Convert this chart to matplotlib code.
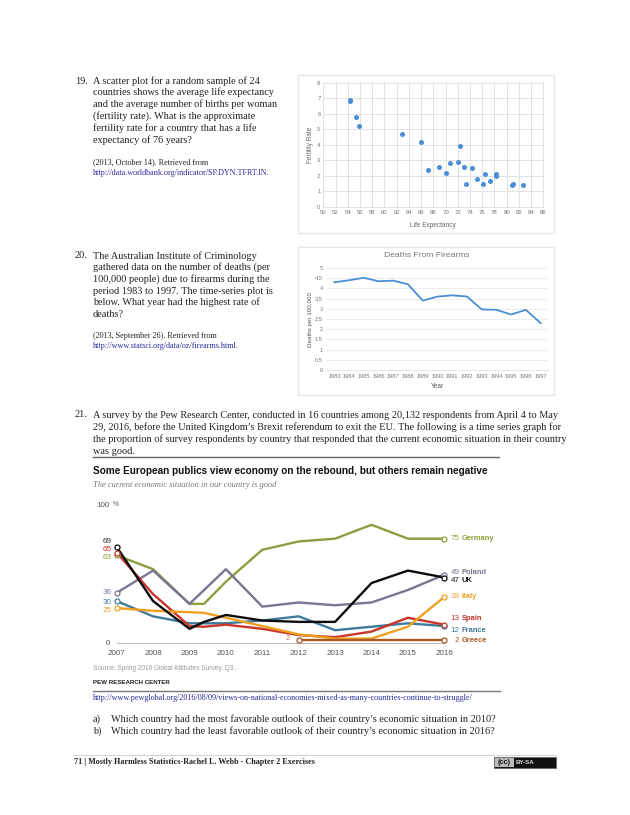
import matplotlib
matplotlib.use("Agg")
import matplotlib.pyplot as plt
from matplotlib.patches import Rectangle

W, H = 630, 815
SERIF = "Liberation Serif"
SANS = "Liberation Sans"
LINK = "#2a2a9c"
INK = "#222222"
BODY = 7.35
NOTE = 5.9

# ---- scatter data
life_expectancy = [54.3, 54.4, 55.4, 55.9, 62.9, 66.0, 67.1, 68.9, 70.0, 70.8, 72.1, 72.3,
                   73.0, 73.3, 74.3, 75.1, 76.1, 76.5, 77.3, 78.3, 78.3, 80.8, 81.0, 82.7]
fertility_rate = [6.9, 6.8, 5.8, 5.2, 4.7, 4.2, 2.4, 2.6, 2.2, 2.8, 2.9, 3.9,
                  2.6, 1.5, 2.5, 1.8, 1.5, 2.1, 1.7, 2.0, 2.1, 1.4, 1.5, 1.4]

# ---- firearms data
firearm_years = [1983, 1984, 1985, 1986, 1987, 1988, 1989, 1990, 1991, 1992, 1993, 1994, 1995, 1996, 1997]
firearm_deaths = [4.3, 4.4, 4.52, 4.35, 4.38, 4.2, 3.4, 3.6, 3.66, 3.6, 2.97, 2.95, 2.72, 2.95, 2.3]

# ---- Pew data
pew_years = [2007, 2008, 2009, 2010, 2011, 2012, 2013, 2014, 2015, 2016]
years_kink = [2007, 2008, 2009, 2009.4, 2010, 2011, 2012, 2013, 2014, 2015, 2016]
germany = [63, 53, 28, 28, 44, 67, 73, 75, 85, 75, 75]
poland = [36, 52, 28, 38, 53, 26, 29, 27, 29, 38, 49]
uk = [69, 30, 10, 15, 20, 16, 15, 15, 43, 52, 47]
spain = [65, 35, 12, 11.5, 13, 10, 5.5, 4, 8, 18, 13]
france = [30, 19, 14, 14, 14, 16, 19, 9, 11.5, 14, 12]
italy = [25, 23, 22, 21.5, 18, 12, 6, 3, 3, 11.5, 33]
greece_years = [2012, 2013, 2014, 2015, 2016]
greece = [2, 2, 2, 2, 2]

fig = plt.figure(figsize=(W / 100, H / 100), dpi=100, facecolor="white")


def box(x0, y0, x1, y1, **kw):
    return fig.add_axes([x0 / W, 1 - y1 / H, (x1 - x0) / W, (y1 - y0) / H], **kw)


def txt(x, y, s, size=BODY, color=INK, family=SERIF, **kw):
    kw.setdefault("va", "center")
    fig.text(x / W, 1 - y / H, s, fontsize=size, color=color, family=family, **kw)


def rule(x0, x1, y, color, lw):
    fig.add_artist(plt.Line2D([x0 / W, x1 / W], [1 - y / H, 1 - y / H], color=color, lw=lw))


def frame(x0, y0, x1, y1):
    fig.add_artist(Rectangle((x0 / W, 1 - y1 / H), (x1 - x0) / W, (y1 - y0) / H,
                             transform=fig.transFigure, fc="white", ec="#e6e6e6", lw=1.0,
                             zorder=-1))


# ---- page text
txt(75, 81, "19.")
for y, s in zip([81, 92.5, 104.5, 116, 128, 140],
                ["A scatter plot for a random sample of 24",
                 "countries shows the average life expectancy",
                 "and the average number of births per woman",
                 "(fertility rate). What is the approximate",
                 "fertility rate for a country that has a life",
                 "expectancy of 76 years?"]):
    txt(93, y, s)
txt(93, 162, "(2013, October 14). Retrieved from", size=NOTE)
txt(93, 173, "http://data.worldbank.org/indicator/SP.DYN.TFRT.IN.", size=NOTE, color=LINK)

txt(75, 255.7, "20.")
for y, s in zip([255.7, 267.5, 279.5, 291, 302.5, 314.5],
                ["The Australian Institute of Criminology",
                 "gathered data on the number of deaths (per",
                 "100,000 people) due to firearms during the",
                 "period 1983 to 1997. The time-series plot is",
                 "below. What year had the highest rate of",
                 "deaths?"]):
    txt(93, y, s)
txt(93, 335.5, "(2013, September 26). Retrieved from", size=NOTE)
txt(93, 345.7, "http://www.statsci.org/data/oz/firearms.html.", size=NOTE, color=LINK)

txt(75, 415, "21.")
for y, s in zip([415, 427, 438.7, 451],
                ["A survey by the Pew Research Center, conducted in 16 countries among 20,132 respondents from April 4 to May",
                 "29, 2016, before the United Kingdom\u2019s Brexit referendum to exit the EU. The following is a time series graph for",
                 "the proportion of survey respondents by country that responded that the current economic situation in their country",
                 "was good."]):
    txt(93, y, s)

# ---- scatter chart
frame(298, 75, 554, 233)
ax1 = box(323.3, 82.7, 543.3, 207)
ax1.scatter(life_expectancy, fertility_rate, s=13, color="#4a8fd6", zorder=3, linewidths=0)
ax1.set_xlim(50, 86)
ax1.set_ylim(0, 8)
ax1.set_xticks(range(50, 88, 2))
ax1.set_yticks(range(0, 9))
ax1.grid(color="#e2e2e2", lw=0.7)
ax1.set_axisbelow(True)
ax1.tick_params(length=0, labelsize=4.3, labelcolor="#777777", pad=2)
for s in ax1.spines.values():
    s.set_color("#e2e2e2")
    s.set_linewidth(0.7)
ax1.set_xlabel("Life Expectancy", fontsize=4.7, color="#666666", family=SANS, labelpad=5)
ax1.set_ylabel("Fertility Rate", fontsize=4.7, color="#666666", family=SANS, labelpad=2)
for t in ax1.get_xticklabels() + ax1.get_yticklabels():
    t.set_family(SANS)

# ---- firearms chart
frame(298, 246.7, 554, 395)
ax2 = box(327, 268, 548, 370)
ax2.plot(firearm_years, firearm_deaths, color="#4a8fd6", lw=1.3, solid_joinstyle="round")
ax2.set_xlim(1982.5, 1997.5)
ax2.set_ylim(0, 5)
ax2.set_xticks(firearm_years)
ax2.set_yticks([i * 0.5 for i in range(11)])
ax2.set_yticklabels(["0", "0.5", "1", "1.5", "2", "2.5", "3", "3.5", "4", "4.5", "5"])
ax2.grid(axis="y", color="#ececec", lw=0.7)
ax2.set_axisbelow(True)
ax2.tick_params(length=0, labelsize=4.1, labelcolor="#777777", pad=3)
for n, s in ax2.spines.items():
    s.set_visible(n == "bottom")
    s.set_color("#e8e8e8")
ax2.set_xlabel("Year", fontsize=4.7, color="#555555", family=SANS, labelpad=3)
ax2.set_ylabel("Deaths per 100,000", fontsize=4.5, color="#555555", family=SANS, labelpad=1)
for t in ax2.get_xticklabels() + ax2.get_yticklabels():
    t.set_family(SANS)
txt(426.5, 255.7, "Deaths From Firearms", size=6.1, color="#777777", family=SANS, ha="center")

# ---- Pew chart
rule(93, 499, 456.8, "#666666", 1.0)
txt(93, 470.7, "Some European publics view economy on the rebound, but others remain negative",
    size=7.2, color="#111111", family=SANS, weight="bold")
txt(93, 485.3, "The current economic situation in our country is good", size=6.1, color="#777777",
    style="italic")
ax3 = box(116.7, 504, 444.3, 642.7)
ax3.set_xlim(2007, 2016)
ax3.set_ylim(0, 100)
ax3.patch.set_visible(False)
series = [
    (years_kink, germany, "#8c9e3e"),
    (years_kink, poland, "#7c7490"),
    (years_kink, france, "#3f7a9c"),
    (years_kink, spain, "#c8352b"),
    (years_kink, italy, "#f0a020"),
    (greece_years, greece, "#a85a20"),
    (years_kink, uk, "#0c0c0c"),
]
for xs, ys, c in series:
    ax3.plot(xs, ys, color=c, lw=1.7, clip_on=False, solid_joinstyle="round", zorder=3)
    for i in (0, -1):
        ax3.plot(xs[i], ys[i], "o", ms=3.6, mfc="white", mec=c, mew=0.9, clip_on=False, zorder=4)
for n, s in ax3.spines.items():
    s.set_visible(n == "bottom")
    s.set_color("#bbbbbb")
ax3.set_xticks(pew_years)
ax3.set_xticklabels([str(y) for y in pew_years], family=SANS)
ax3.tick_params(axis="x", length=0, labelsize=5.8, labelcolor="#555555", pad=5)
ax3.set_yticks([0, 100])
ax3.set_yticklabels(["0", "100"], family=SANS)
ax3.tick_params(axis="y", length=0, labelsize=5.8, labelcolor="#555555", pad=5)
txt(118.5, 504.5, "%", size=4.8, color="#555555", family=SANS, ha="right")

start_labels = [("69", "#333333", 541.7), ("65", "#c8352b", 549.3), ("63", "#8c9e3e", 557.3),
                ("36", "#7c7490", 593), ("30", "#3f7a9c", 602.7), ("25", "#f0a020", 610.7)]
for s, c, y in start_labels:
    txt(111.7, y, s, size=5.8, color=c, family=SANS, ha="right")
txt(288, 639, "2", size=5.8, color="#c87a50", family=SANS, ha="center")
end_labels = [("75", "Germany", "#8c9e3e", 539), ("49", "Poland", "#7c7490", 572.7),
              ("47", "UK", "#1a1a1a", 580), ("33", "Italy", "#f0a020", 597),
              ("13", "Spain", "#c8352b", 618.7), ("12", "France", "#3f7a9c", 630),
              ("2", "Greece", "#a85a20", 640)]
for num, name, c, y in end_labels:
    txt(459.5, y, num, size=5.8, color=c, family=SANS, ha="right")
    txt(461.7, y, name, size=5.4, color=c, family=SANS, weight="bold")
txt(93, 668.7, "Source: Spring 2016 Global Attitudes Survey, Q3.", size=4.7, color="#9a9a9a", family=SANS)
txt(93, 682, "PEW RESEARCH CENTER", size=4.4, color="#222222", family=SANS, weight="bold")
rule(93, 500, 691, "#777777", 1.0)
txt(93, 697.5, "http://www.pewglobal.org/2016/08/09/views-on-national-economies-mixed-as-many-countries-continue-to-struggle/",
    size=NOTE, color=LINK)

txt(93, 718.8, "a)")
txt(111, 718.8, "Which country had the most favorable outlook of their country\u2019s economic situation in 2010?")
txt(93, 731, "b)")
txt(111, 731, "Which country had the least favorable outlook of their country\u2019s economic situation in 2016?")

rule(73, 556, 755, "#cccccc", 0.6)
txt(74, 762, "71 | Mostly Harmless Statistics-Rachel L. Webb - Chapter 2 Exercises", size=5.9,
    color="#222222", weight="bold")
fig.add_artist(Rectangle((494 / W, 1 - 768.3 / H), 61.7 / W, 11 / H, transform=fig.transFigure,
                         fc="#111111", ec="#666666", lw=0.6))
fig.add_artist(Rectangle((495 / W, 1 - 767.3 / H), 19 / W, 9 / H, transform=fig.transFigure,
                         fc="#bbbbbb", ec="none"))
txt(504.5, 762.7, "(cc)", size=5.2, color="#111111", family=SANS, ha="center", weight="bold")
txt(516, 762.7, "BY-SA", size=4.4, color="#dddddd", family=SANS, weight="bold")

fig.savefig("out.png", dpi=100)
